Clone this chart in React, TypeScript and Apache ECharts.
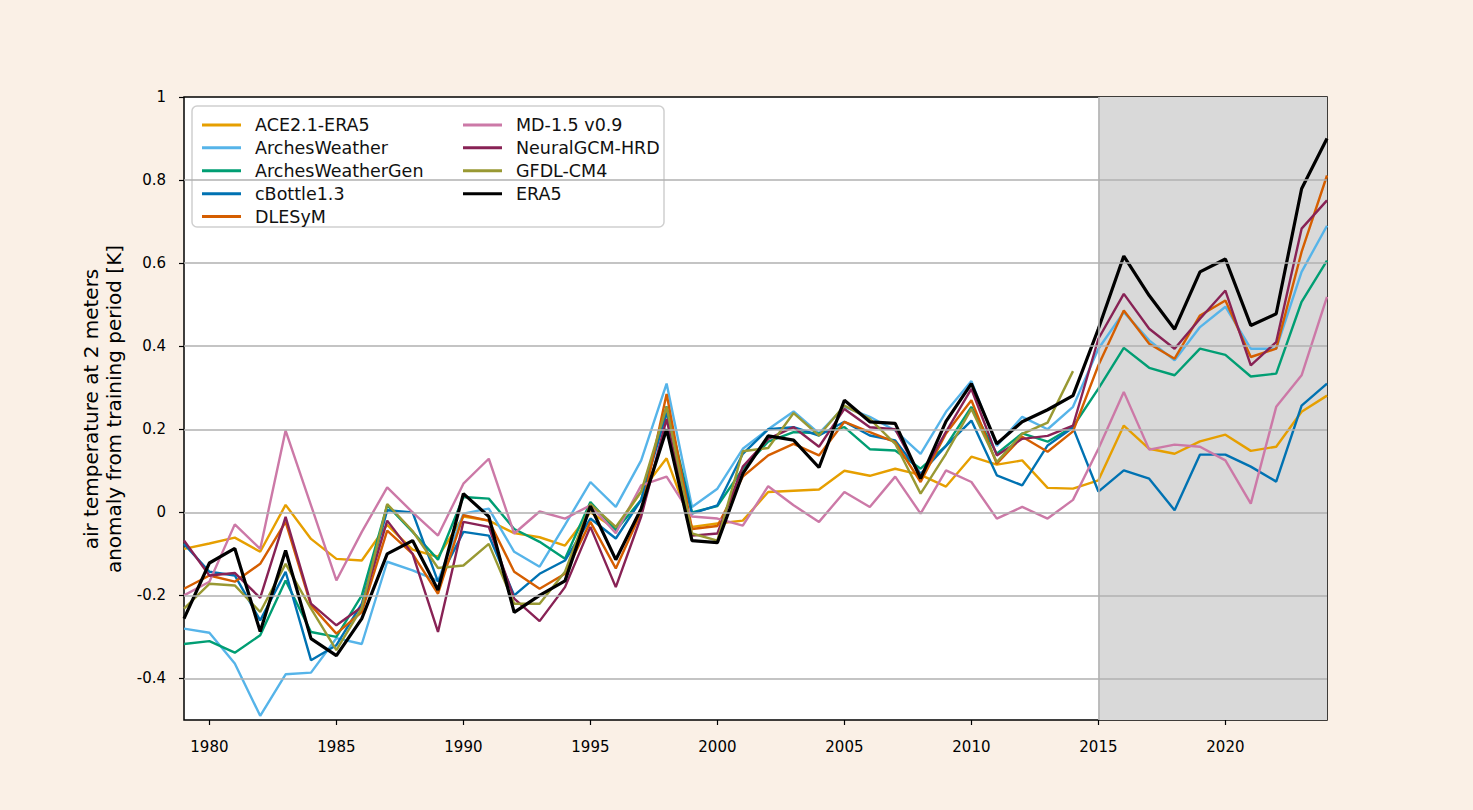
import React, { useEffect, useRef } from "react";
import * as echarts from "echarts";

const years = [
  "1979", "1980", "1981", "1982", "1983", "1984", "1985", "1986", "1987", "1988",
  "1989", "1990", "1991", "1992", "1993", "1994", "1995", "1996", "1997", "1998",
  "1999", "2000", "2001", "2002", "2003", "2004", "2005", "2006", "2007", "2008",
  "2009", "2010", "2011", "2012", "2013", "2014", "2015", "2016", "2017", "2018",
  "2019", "2020", "2021", "2022", "2023", "2024",
];

const ace = [
  -0.088, -0.075, -0.061, -0.095, 0.018, -0.064, -0.112, -0.116, -0.03, -0.09,
  -0.107, -0.01, -0.02, -0.05, -0.06, -0.08, 0.0, -0.04, 0.05, 0.13,
  -0.035, -0.027, -0.02, 0.049, 0.052, 0.055, 0.1, 0.088, 0.105, 0.09,
  0.062, 0.134, 0.115, 0.125, 0.059, 0.057, 0.077, 0.209, 0.153, 0.141,
  0.171, 0.187, 0.148, 0.158, 0.242, 0.281,
];
const archesWeather = [
  -0.28, -0.29, -0.364, -0.49, -0.39, -0.386, -0.303, -0.317, -0.119, -0.14,
  -0.165, -0.003, 0.009, -0.095, -0.131, -0.03, 0.073, 0.013, 0.125, 0.31,
  0.013, 0.057, 0.153, 0.2, 0.243, 0.19, 0.254, 0.23, 0.197, 0.141,
  0.242, 0.316, 0.16, 0.23, 0.2, 0.254, 0.394, 0.482, 0.414, 0.366,
  0.446, 0.495, 0.394, 0.394, 0.579, 0.69,
];
const archesWeatherGen = [
  -0.317, -0.31, -0.338, -0.296, -0.164, -0.288, -0.3, -0.2, 0.017, -0.047,
  -0.114, 0.037, 0.033, -0.04, -0.071, -0.112, 0.025, -0.043, 0.03, 0.255,
  0.0, 0.015, 0.105, 0.17, 0.193, 0.19, 0.205, 0.152, 0.149, 0.105,
  0.16, 0.254, 0.141, 0.19, 0.17, 0.206, 0.298, 0.396, 0.348, 0.33,
  0.394, 0.379, 0.327, 0.334, 0.507, 0.606,
];
const cBottle = [
  -0.076, -0.143, -0.152, -0.26, -0.143, -0.356, -0.32, -0.22, 0.005, 0.0,
  -0.167, -0.047, -0.056, -0.2, -0.148, -0.116, -0.015, -0.063, 0.03, 0.24,
  -0.003, 0.017, 0.141, 0.2, 0.205, 0.185, 0.218, 0.185, 0.173, 0.093,
  0.16, 0.221, 0.089, 0.065, 0.161, 0.204, 0.05, 0.101, 0.081, 0.005,
  0.139, 0.139, 0.11, 0.074, 0.257, 0.31,
];
const dlesym = [
  -0.184, -0.152, -0.167, -0.124, -0.023, -0.224, -0.292, -0.24, -0.044, -0.1,
  -0.196, -0.007, -0.02, -0.143, -0.184, -0.148, -0.023, -0.135, 0.0, 0.285,
  -0.04, -0.033, 0.086, 0.137, 0.165, 0.137, 0.218, 0.193, 0.169, 0.073,
  0.19, 0.27, 0.117, 0.182, 0.146, 0.195, 0.354, 0.486, 0.406, 0.37,
  0.474, 0.51, 0.374, 0.394, 0.627, 0.811,
];
const md15 = [
  -0.2, -0.167, -0.029, -0.088, 0.197, 0.017, -0.164, -0.047, 0.06, 0.0,
  -0.056, 0.069, 0.129, -0.051, 0.002, -0.015, 0.017, -0.05, 0.065, 0.086,
  -0.01, -0.015, -0.032, 0.063, 0.017, -0.023, 0.049, 0.013, 0.086, -0.003,
  0.101, 0.073, -0.015, 0.013, -0.015, 0.03, 0.153, 0.29, 0.151, 0.163,
  0.158, 0.125, 0.021, 0.254, 0.33, 0.519,
];
const neuralGcm = [
  -0.068, -0.152, -0.146, -0.206, -0.011, -0.22, -0.272, -0.228, -0.02, -0.1,
  -0.288, -0.023, -0.035, -0.208, -0.262, -0.18, -0.035, -0.18, -0.01, 0.225,
  -0.056, -0.051, 0.11, 0.177, 0.205, 0.158, 0.249, 0.205, 0.2, 0.086,
  0.194, 0.297, 0.137, 0.177, 0.184, 0.209, 0.418, 0.526, 0.442, 0.394,
  0.466, 0.534, 0.354, 0.41, 0.683, 0.751,
];
const gfdl = [
  -0.232, -0.172, -0.176, -0.24, -0.124, -0.232, -0.332, -0.23, 0.02, -0.045,
  -0.134, -0.128, -0.076, -0.22, -0.22, -0.143, 0.02, -0.035, 0.05, 0.254,
  -0.051, -0.068, 0.147, 0.155, 0.239, 0.185, 0.257, 0.225, 0.165, 0.045,
  0.141, 0.249, 0.121, 0.189, 0.216, 0.34, null, null, null, null,
  null, null, null, null, null, null,
];
const era5 = [
  -0.256, -0.122, -0.087, -0.287, -0.092, -0.304, -0.345, -0.256, -0.1, -0.068,
  -0.187, 0.045, -0.01, -0.241, -0.2, -0.165, 0.015, -0.114, 0.009, 0.2,
  -0.068, -0.073, 0.093, 0.184, 0.174, 0.108, 0.27, 0.218, 0.214, 0.081,
  0.219, 0.31, 0.165, 0.218, 0.247, 0.281, 0.442, 0.617, 0.522, 0.441,
  0.579, 0.61, 0.45, 0.478, 0.779, 0.9,
];

const seriesNames = [
  "ACE2.1-ERA5", "ArchesWeather", "ArchesWeatherGen", "cBottle1.3", "DLESyM",
  "MD-1.5 v0.9", "NeuralGCM-HRD", "GFDL-CM4", "ERA5",
];
const seriesData = [ace, archesWeather, archesWeatherGen, cBottle, dlesym, md15, neuralGcm, gfdl, era5];
const seriesColors = [
  "#E69F00", "#56B4E9", "#009E73", "#0072B2", "#D55E00",
  "#CC79A7", "#882255", "#999933", "#000000",
];

const yTicks = [-0.4, -0.2, 0, 0.2, 0.4, 0.6, 0.8, 1];
const gridLines = [-0.4, -0.2, 0, 0.2, 0.4, 0.6, 0.8];
const xTickYears = ["1980", "1985", "1990", "1995", "2000", "2005", "2010", "2015", "2020"];
const shadeStart = "2015";
const shadeEnd = "2024";

const FONT = "DejaVu Sans";

export default function App() {
  const ref = useRef<HTMLDivElement>(null);

  useEffect(() => {
    if (!ref.current) return;
    const chart = echarts.init(ref.current, null, { renderer: "svg" });

    const legendText = {
      fontFamily: FONT,
      fontSize: 17.5,
      lineHeight: 22.9,
      color: "#111111",
      padding: [0, 0, 0, 9],
    };

    const legendBase = {
      orient: "vertical",
      top: 108.5,
      itemWidth: 39,
      itemHeight: 3,
      icon: "rect",
      itemGap: 0,
      selectedMode: false,
      textStyle: legendText,
      z: 6,
    };

    const lineSeries = seriesNames.map((name, i) => ({
      type: "line",
      name,
      data: seriesData[i],
      symbol: "none",
      showSymbol: false,
      connectNulls: false,
      z: 3,
      color: seriesColors[i],
      itemStyle: { color: seriesColors[i] },
      lineStyle: { color: seriesColors[i], width: name === "ERA5" ? 3.2 : 2.4 },
      emphasis: { disabled: true },
    }));

    const option: any = {
      animation: false,
      backgroundColor: "#FAF0E6",
      textStyle: { fontFamily: FONT },
      grid: {
        left: 184,
        top: 97,
        right: 146,
        bottom: 90,
        show: true,
        backgroundColor: "#ffffff",
        borderColor: "#000000",
        borderWidth: 1.5,
      },
      xAxis: {
        type: "category",
        data: years,
        boundaryGap: false,
        axisLine: { show: false, onZero: false },
        axisTick: {
          show: true,
          inside: false,
          length: 5,
          alignWithLabel: true,
          interval: (_i: number, v: string) => xTickYears.includes(v),
          lineStyle: { color: "#000", width: 1.2 },
        },
        axisLabel: {
          interval: (_i: number, v: string) => xTickYears.includes(v),
          color: "#000",
          fontFamily: FONT,
          fontSize: 15,
          margin: 19,
        },
        splitLine: { show: false },
      },
      yAxis: {
        type: "value",
        min: -0.5,
        max: 1,
        interval: 0.1,
        axisLine: { show: false, onZero: false },
        axisTick: {
          show: true,
          inside: false,
          length: 5,
          customValues: yTicks,
          lineStyle: { color: "#000", width: 1.2 },
        },
        axisLabel: {
          customValues: yTicks,
          formatter: (v: number) => String(Math.round(v * 10) / 10),
          color: "#000",
          fontFamily: FONT,
          fontSize: 15,
          margin: 18,
        },
        splitLine: { show: false },
      },
      legend: [
        { ...legendBase, data: seriesNames.slice(0, 5), left: 197 },
        { ...legendBase, data: seriesNames.slice(5), left: 458 },
      ],
      graphic: [
        {
          type: "rect",
          z: 5,
          shape: { x: 192, y: 106, width: 472, height: 121, r: 5 },
          style: { fill: "rgba(255,255,255,0.85)", stroke: "#cfcfcf", lineWidth: 1.5 },
          silent: true,
        },
        {
          type: "text",
          x: 102,
          y: 409,
          rotation: Math.PI / 2,
          silent: true,
          style: {
            text: "air temperature at 2 meters\nanomaly from training period [K]",
            fontFamily: FONT,
            fontSize: 20,
            lineHeight: 23,
            fill: "#000",
            align: "center",
            verticalAlign: "middle",
          },
        },
      ],
      series: [
        {
          type: "line",
          name: "__grid",
          data: [],
          z: 1,
          silent: true,
          markArea: {
            silent: true,
            itemStyle: { color: "#d9d9d9" },
            data: [[{ xAxis: shadeStart }, { xAxis: shadeEnd }]],
          },
          markLine: {
            silent: true,
            symbol: ["none", "none"],
            label: { show: false },
            lineStyle: { color: "#b0b0b0", width: 1.5, type: "solid" },
            emphasis: { disabled: true },
            data: [...gridLines.map((v) => ({ yAxis: v })), { xAxis: shadeStart }],
          },
        },
        ...lineSeries,
      ],
    };

    chart.setOption(option);
    return () => chart.dispose();
  }, []);

  return (
    <div
      ref={ref}
      style={{ position: "absolute", left: 0, top: 0, width: 1473, height: 810 }}
    />
  );
}
